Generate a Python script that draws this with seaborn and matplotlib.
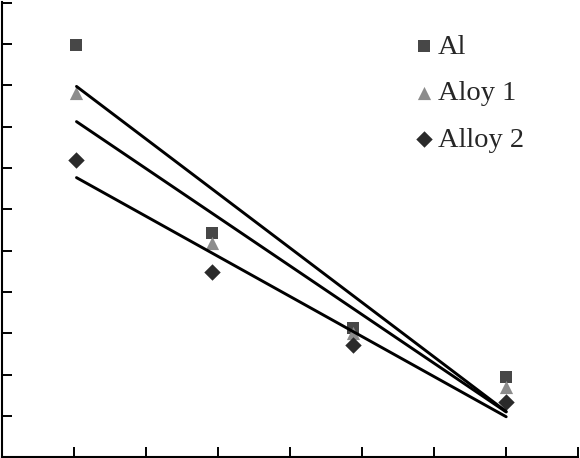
import pandas as pd
import matplotlib
matplotlib.use('Agg')
import matplotlib.pyplot as plt
import seaborn as sns

# values (no axis labels in the original)
x_vals = [1.04, 2.92, 4.88, 7.0]
al = [9.98, 5.43, 3.12, 1.95]
alloy1 = [8.82, 5.19, 3.01, 1.70]
alloy2 = [7.19, 4.49, 2.72, 1.33]
labels = ['Al', 'Aloy 1', 'Alloy 2']

colors = {'Al': '#474747', 'Aloy 1': '#8c8c8c', 'Alloy 2': '#2a2a2a'}
markers = {'Al': 's', 'Aloy 1': '^', 'Alloy 2': 'D'}
sizes = {'Al': 74, 'Aloy 1': 90, 'Alloy 2': 70}

df = pd.DataFrame({
    'x': x_vals * 3,
    'y': al + alloy1 + alloy2,
    'Material': [l for l in labels for _ in x_vals],
})

sns.set_style('ticks')
plt.rcParams['font.family'] = ['Liberation Serif', 'DejaVu Serif']

fig = plt.figure(figsize=(5.8, 4.58), dpi=100)
ax = fig.add_axes([1.5 / 580, 1.5 / 458, 576.8 / 580, 454.7 / 458])

for name in labels:
    sub = df[df['Material'] == name]
    ax.scatter(sub['x'], sub['y'], marker=markers[name], s=sizes[name],
               color=colors[name], linewidths=0, label=name, zorder=2)
    sns.regplot(data=sub, x='x', y='y', scatter=False, ci=None, ax=ax,
                color='black', line_kws={'linewidth': 2.1, 'zorder': 3})

ax.set_xlim(0, 8)
ax.set_ylim(0.02, 11.02)
ax.set_xticks(range(1, 9))
ax.set_yticks(range(1, 12))
ax.set_xticklabels([])
ax.set_yticklabels([])
ax.set_xlabel('')
ax.set_ylabel('')
ax.tick_params(direction='in', length=7.5, width=1.4, colors='black')
for side in ['top', 'right']:
    ax.spines[side].set_visible(False)
for side in ['left', 'bottom']:
    ax.spines[side].set_linewidth(1.5)
    ax.spines[side].set_color('black')

ax.legend(loc='upper left', bbox_to_anchor=(415 / 580, 1 - 34 / 458),
          bbox_transform=fig.transFigure, frameon=False, fontsize=20.5,
          handlelength=0.6, handletextpad=0.2, borderpad=0, borderaxespad=0,
          labelspacing=0.72)

fig.savefig('out.png', dpi=100)
